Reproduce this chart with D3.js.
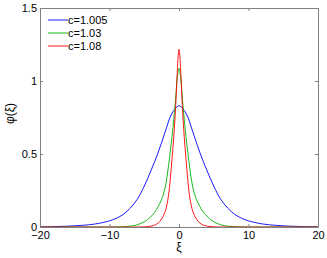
<!DOCTYPE html>
<html>
<head>
<meta charset="utf-8">
<script src="https://d3js.org/d3.v7.min.js"></script>
<style>
  body { margin: 0; background: #fff; }
  text { font-family: "Liberation Sans", Arial, sans-serif; }
</style>
</head>
<body>
<div id="chart"></div>
<script>
// Solitary wave profiles phi(xi) for three speeds c

const seriesNames = ['c=1.005', 'c=1.03', 'c=1.08'];
const seriesColors = ['#0000ff', '#00b000', '#ff0000'];

const xiBlue = [-20, -18, -16, -14, -12, -10, -9, -8, -7, -6, -5, -4, -3, -2, -1, 0,
                1, 2, 3, 4, 5, 6, 7, 8, 9, 10, 12, 14, 16, 18, 20];
const phiBlue = [0.0014, 0.0028, 0.0055, 0.011, 0.021, 0.042, 0.06, 0.087, 0.13, 0.19, 0.28, 0.39, 0.51, 0.65, 0.78, 0.83,
                 0.78, 0.65, 0.51, 0.39, 0.28, 0.19, 0.13, 0.087, 0.06, 0.042, 0.021, 0.011, 0.0055, 0.0028, 0.0014];

const xiGreen = [-20, -10, -8, -7, -6, -5, -4.5, -4, -3.5, -3, -2.5, -2, -1.5, -1.25, -1, -0.75, -0.5, -0.25, 0,
                 0.25, 0.5, 0.75, 1, 1.25, 1.5, 2, 2.5, 3, 3.5, 4, 4.5, 5, 6, 7, 8, 10, 20];
const phiGreen = [0, 0.0004, 0.0025, 0.006, 0.015, 0.036, 0.052, 0.075, 0.10, 0.14, 0.19, 0.27, 0.42, 0.52, 0.62, 0.74, 0.87, 1.02, 1.087,
                  1.02, 0.87, 0.74, 0.62, 0.52, 0.42, 0.27, 0.19, 0.14, 0.10, 0.075, 0.052, 0.036, 0.015, 0.006, 0.0025, 0.0004, 0];

const xiRed = [-20, -6, -5, -4, -3.5, -3, -2.5, -2, -1.75, -1.5, -1.25, -1, -0.75, -0.5, -0.25, -0.125, 0,
               0.125, 0.25, 0.5, 0.75, 1, 1.25, 1.5, 1.75, 2, 2.5, 3, 3.5, 4, 5, 6, 20];
const phiRed = [0, 0.0003, 0.0015, 0.006, 0.013, 0.027, 0.055, 0.105, 0.15, 0.22, 0.33, 0.47, 0.62, 0.81, 1.06, 1.17, 1.217,
                1.17, 1.06, 0.81, 0.62, 0.47, 0.33, 0.22, 0.15, 0.105, 0.055, 0.027, 0.013, 0.006, 0.0015, 0.0003, 0];

const xTicks = [-20, -10, 0, 10, 20];
const yTicks = [0, 0.5, 1, 1.5];
const yTickLabels = ['0', '0.5', '1', '1.5'];

const W = 327, H = 258;
const margin = { left: 40, right: 9, top: 8, bottom: 31 };
const axisColor = '#808080';

const svg = d3.select('#chart').append('svg')
  .attr('width', W)
  .attr('height', H);

const x = d3.scaleLinear().domain([-20, 20]).range([margin.left, W - margin.right]);
const y = d3.scaleLinear().domain([0, 1.5]).range([H - margin.bottom, margin.top]);

const series = [
  { xs: xiBlue, ys: phiBlue },
  { xs: xiGreen, ys: phiGreen },
  { xs: xiRed, ys: phiRed }
];

const line = d3.line()
  .x(d => x(d[0]))
  .y(d => y(d[1]))
  .curve(d3.curveCatmullRom.alpha(0.5));

// Curves
series.forEach((s, i) => {
  svg.append('path')
    .datum(s.xs.map((v, k) => [v, s.ys[k]]))
    .attr('d', line)
    .attr('fill', 'none')
    .attr('stroke', seriesColors[i])
    .attr('stroke-width', 0.9);
});

const plotH = H - margin.top - margin.bottom;

// Axes box with inward ticks
svg.append('g')
  .attr('transform', `translate(0,${H - margin.bottom})`)
  .call(d3.axisBottom(x).tickValues(xTicks).tickSizeInner(-3).tickSizeOuter(0).tickPadding(4)
    .tickFormat(d => d < 0 ? '\u2212' + Math.abs(d) : d))
  .call(g => g.selectAll('text').attr('font-size', 11).attr('fill', '#000'));

svg.append('g')
  .attr('transform', `translate(0,${margin.top})`)
  .call(d3.axisTop(x).tickValues(xTicks).tickSizeInner(-3).tickSizeOuter(0).tickFormat(''));

svg.append('g')
  .attr('transform', `translate(${margin.left},0)`)
  .call(d3.axisLeft(y).tickValues(yTicks).tickSizeInner(-3).tickSizeOuter(0).tickPadding(6)
    .tickFormat((d, i) => yTickLabels[i]))
  .call(g => g.selectAll('text').attr('font-size', 11).attr('fill', '#000').attr('dx', 3));

svg.append('g')
  .attr('transform', `translate(${W - margin.right},0)`)
  .call(d3.axisRight(y).tickValues(yTicks).tickSizeInner(-3).tickSizeOuter(0).tickFormat(''));

svg.selectAll('.domain, .tick line').attr('stroke', axisColor);

// Axis labels
svg.append('text')
  .attr('x', x(0))
  .attr('y', H - 7)
  .attr('text-anchor', 'middle')
  .attr('font-size', 12)
  .text('\u03be');

svg.append('text')
  .attr('transform', `translate(14,${margin.top + plotH / 2 - 4}) rotate(-90)`)
  .attr('text-anchor', 'middle')
  .attr('font-size', 12)
  .text('\u03c6(\u03be)');

// Legend (no box)
const legend = svg.append('g').attr('transform', `translate(${margin.left + 8},${margin.top + 12})`);
seriesNames.forEach((name, i) => {
  const row = legend.append('g').attr('transform', `translate(0,${i * 13})`);
  row.append('line')
    .attr('x1', 0).attr('x2', 20)
    .attr('stroke', seriesColors[i])
    .attr('stroke-width', 0.9);
  row.append('text')
    .attr('x', 20)
    .attr('y', 4)
    .attr('font-size', 11)
    .text(name);
});
</script>
</body>
</html>
